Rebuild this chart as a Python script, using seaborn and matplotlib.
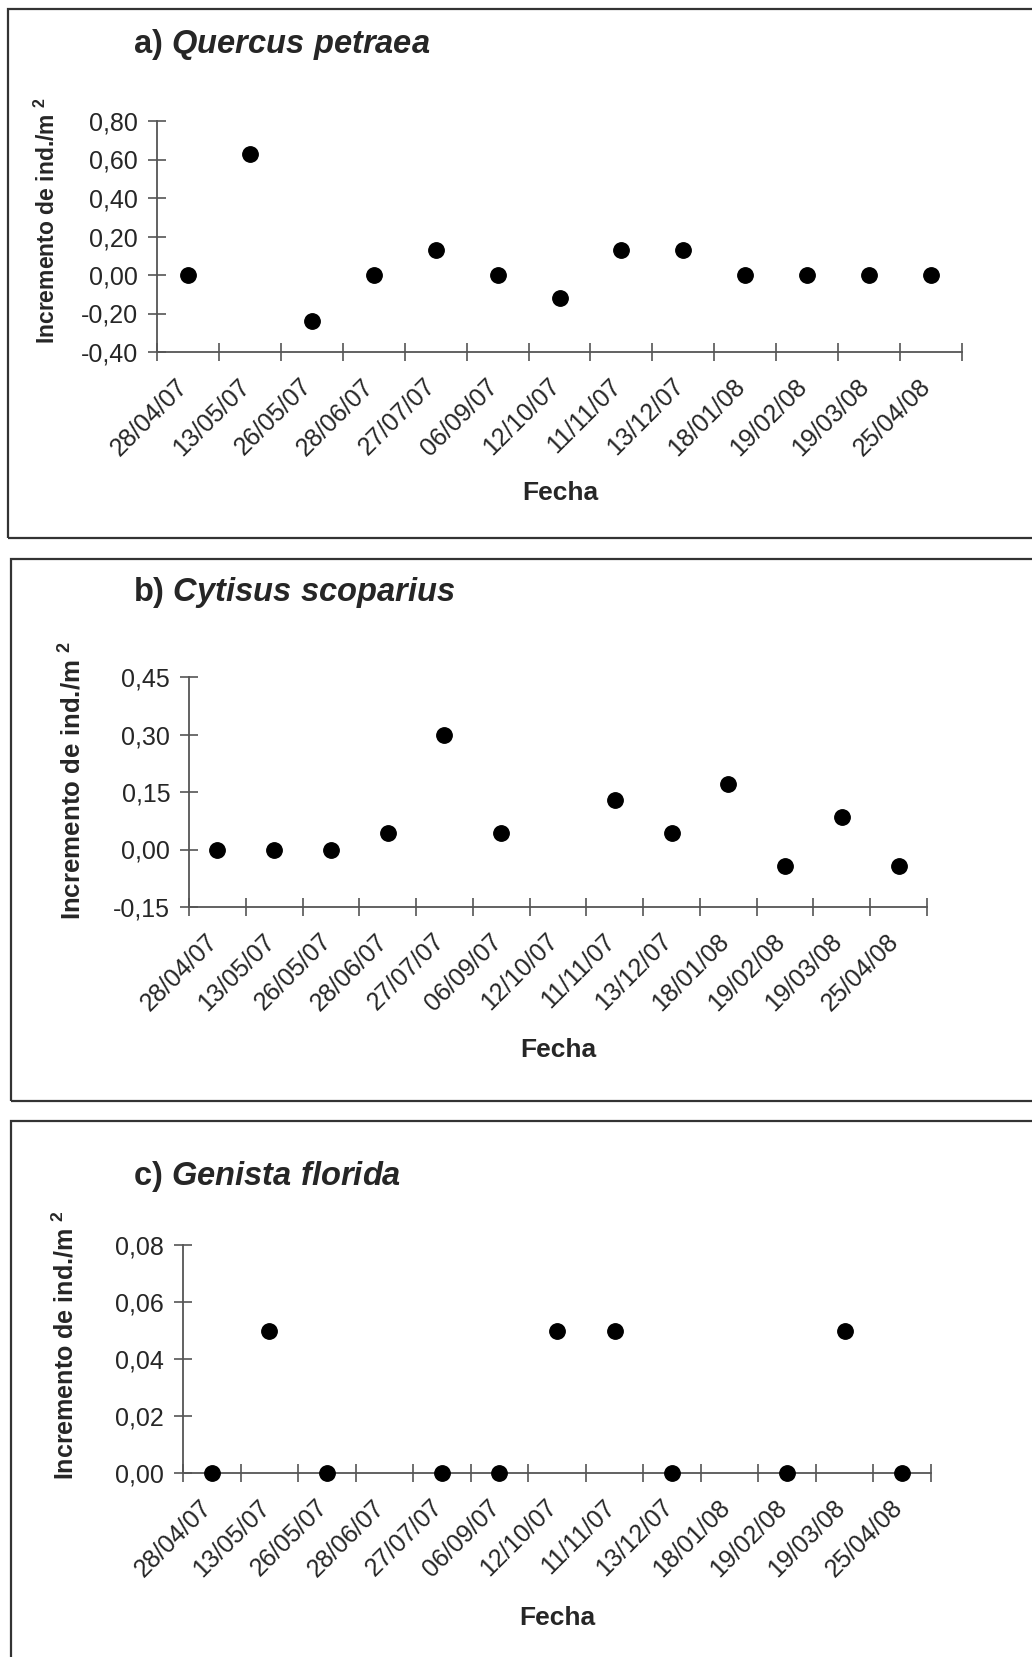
# Incremento de ind./m2 por fecha - tres especies (Quercus, Cytisus, Genista)

import numpy as np
import pandas as pd
import matplotlib
matplotlib.use("Agg")
import matplotlib.pyplot as plt
from matplotlib.patches import Rectangle
from matplotlib.ticker import FixedLocator, FuncFormatter, NullFormatter
import seaborn as sns

# %% Datos
fechas = ["28/04/07", "13/05/07", "26/05/07", "28/06/07", "27/07/07", "06/09/07",
          "12/10/07", "11/11/07", "13/12/07", "18/01/08", "19/02/08", "19/03/08",
          "25/04/08"]

quercus = [0.00, 0.63, -0.24, 0.00, 0.13, 0.00, -0.12, 0.13, 0.13, 0.00, 0.00, 0.00, 0.00]
cytisus = [0.00, 0.00, 0.00, 0.043, 0.298, 0.043, np.nan, 0.128, 0.043, 0.17, -0.043, 0.085, -0.043]
genista = [0.00, 0.05, 0.00, np.nan, 0.00, 0.00, 0.05, 0.05, 0.00, np.nan, 0.00, 0.05, 0.00]

letras = ["a)", "b)", "c)"]
especies = ["Quercus petraea", "Cytisus scoparius", "Genista florida"]
yticks_a = [-0.40, -0.20, 0.00, 0.20, 0.40, 0.60, 0.80]
yticks_b = [-0.15, 0.00, 0.15, 0.30, 0.45]
yticks_c = [0.00, 0.02, 0.04, 0.06, 0.08]

ylabel = r"Incremento de ind./m $^{\mathbf{2}}$"
xlabel = "Fecha"

# %% Estilo
sns.set_style("white")
plt.rcParams["font.family"] = ["Liberation Sans", "DejaVu Sans"]
plt.rcParams["mathtext.fontset"] = "custom"
plt.rcParams["mathtext.rm"] = "Liberation Sans"
plt.rcParams["mathtext.bf"] = "Liberation Sans:bold"
plt.rcParams["mathtext.it"] = "Liberation Sans:bold:italic"

W, H = 1032, 1657
fig = plt.figure(figsize=(W / 100, H / 100), dpi=100)


def fx(x):
    return x / W


def fy(y):
    return 1 - y / H


# posiciones en pixeles: eje (izq, der, arriba, abajo), caja, titulo, ylabel, xlabel
paneles = [
    dict(eje=(157, 962, 121, 352), caja=(8, 9, 538), tit=45, yl=(47, 221), yls=16.5, xl=(560, 493)),
    dict(eje=(189, 927, 677, 907), caja=(11, 559, 1101), tit=593, yl=(72, 780), yls=18.6, xl=(558, 1050)),
    dict(eje=(183, 931, 1245, 1473), caja=(11, 1121, 1700), tit=1177, yl=(65, 1345), yls=18.0, xl=(557, 1618)),
]
series = [quercus, cytisus, genista]
yticks = [yticks_a, yticks_b, yticks_c]

gris = "#555555"
coma = FuncFormatter(lambda v, p: f"{v:.2f}".replace(".", ","))

for i, p in enumerate(paneles):
    l, r, t, b = p["eje"]
    ax = fig.add_axes([fx(l), fy(b), (r - l) / W, (b - t) / H])

    # caja alrededor del grafico
    bx, by0, by1 = p["caja"]
    fig.patches.append(Rectangle((fx(bx), fy(by1)), 2, (by1 - by0) / H,
                                 transform=fig.transFigure, fill=False,
                                 edgecolor="#333333", linewidth=1.6))

    df = pd.DataFrame({"pos": np.arange(len(fechas)), "valor": series[i]}).dropna()
    sns.scatterplot(data=df, x="pos", y="valor", ax=ax, color="black",
                    edgecolor="black", s=125, clip_on=False, zorder=5)

    n = len(fechas)
    ax.set_xlim(-0.5, n - 0.5)
    ax.set_ylim(yticks[i][0], yticks[i][-1])

    for s in ["top", "right"]:
        ax.spines[s].set_visible(False)
    for s in ["left", "bottom"]:
        ax.spines[s].set_color(gris)
        ax.spines[s].set_linewidth(1.3)

    ax.xaxis.set_major_locator(FixedLocator(np.arange(n + 1) - 0.5))
    ax.xaxis.set_major_formatter(NullFormatter())
    ax.set_xticks(np.arange(n) - 0.06, fechas, minor=True)
    ax.tick_params(axis="x", which="major", bottom=True, direction="inout",
                   length=13, width=1.2, color=gris)
    ax.tick_params(axis="x", which="minor", bottom=True, length=0, pad=22,
                   labelsize=18)
    for lab in ax.get_xticklabels(minor=True):
        lab.set_rotation(45)
        lab.set_ha("right")
        lab.set_va("center")
        lab.set_rotation_mode("anchor")

    ax.yaxis.set_major_locator(FixedLocator(yticks[i]))
    ax.yaxis.set_major_formatter(coma)
    ax.tick_params(axis="y", left=True, direction="inout", length=13, width=1.2,
                   color=gris, pad=7, labelsize=18)
    ax.set_xlabel("")
    ax.set_ylabel("")

    fig.text(fx(133), fy(p["tit"]), letras[i] + " $\\mathit{" + especies[i].replace(" ", "\\ ") + "}$",
             fontsize=23.5, fontweight="bold", ha="left", va="center")
    fig.text(fx(p["yl"][0]), fy(p["yl"][1]), ylabel, fontsize=p["yls"], fontweight="bold",
             rotation=90, ha="center", va="center")
    fig.text(fx(p["xl"][0]), fy(p["xl"][1]), xlabel, fontsize=19, fontweight="bold",
             ha="center", va="center")

fig.savefig("out.png", dpi=100)
